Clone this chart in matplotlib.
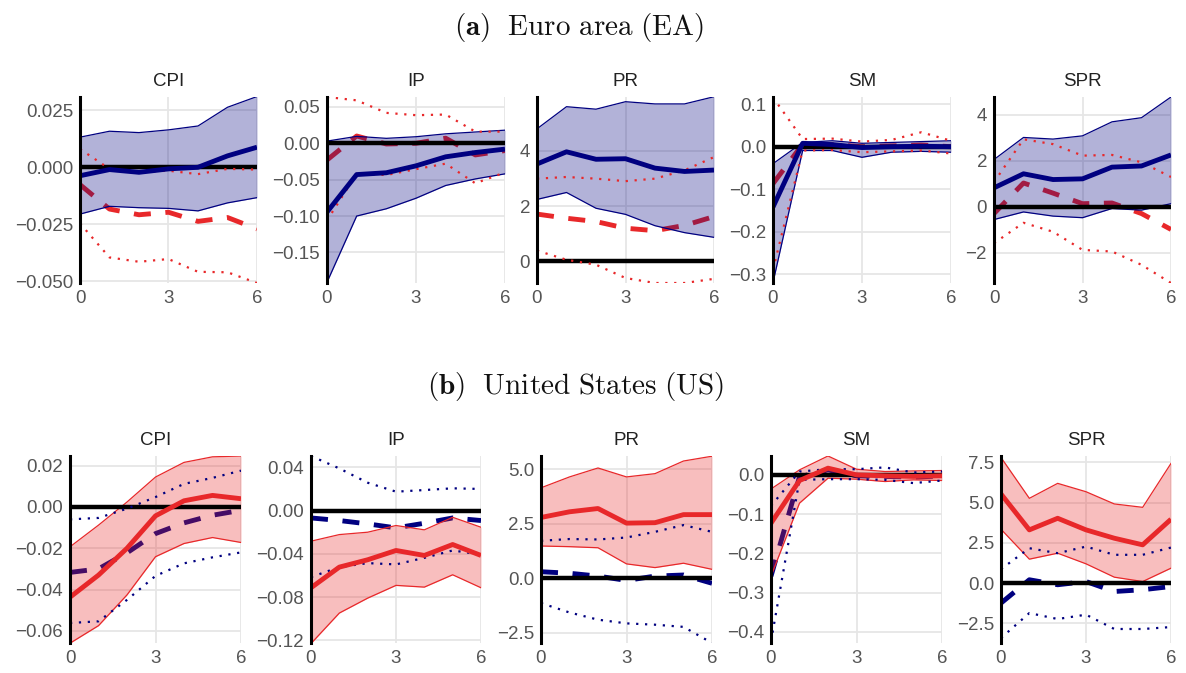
import numpy as np
import matplotlib
matplotlib.use("Agg")
import matplotlib.pyplot as plt

plt.rcParams['font.family'] = ['Liberation Sans', 'DejaVu Sans']
plt.rcParams['mathtext.fontset'] = 'cm'

horizon = [0, 1, 2, 3, 4, 5, 6]
variables = ['CPI', 'IP', 'PR', 'SM', 'SPR']

# ---------------- Euro area (EA) ----------------
ea_med = {
    'CPI': [-0.0037, -0.001, -0.0022, -0.0007, 0.0, 0.005, 0.0088],
    'IP': [-0.0945, -0.043, -0.0405, -0.031, -0.0186, -0.0127, -0.008],
    'PR': [3.52, 3.96, 3.69, 3.71, 3.37, 3.25, 3.30],
    'SM': [-0.142, 0.008, 0.005, -0.002, 0.0, 0.001, 0.0],
    'SPR': [0.83, 1.44, 1.19, 1.22, 1.73, 1.78, 2.26],
}
ea_hi = {
    'CPI': [0.0132, 0.0158, 0.0152, 0.0164, 0.0181, 0.0263, 0.031],
    'IP': [0.003, 0.0095, 0.0068, 0.009, 0.013, 0.0155, 0.018],
    'PR': [4.79, 5.59, 5.50, 5.77, 5.69, 5.69, 5.95],
    'SM': [-0.04, 0.01, 0.014, 0.008, 0.01, 0.012, 0.014],
    'SPR': [2.06, 3.02, 2.95, 3.09, 3.70, 3.88, 4.78],
}
ea_lo = {
    'CPI': [-0.0205, -0.0171, -0.0177, -0.018, -0.0191, -0.0156, -0.0133],
    'IP': [-0.191, -0.10, -0.09, -0.0755, -0.058, -0.049, -0.042],
    'PR': [2.24, 2.49, 1.92, 1.70, 1.29, 1.04, 0.87],
    'SM': [-0.32, -0.009, -0.009, -0.025, -0.013, -0.011, -0.013],
    'SPR': [-0.55, -0.22, -0.40, -0.47, -0.07, -0.14, 0.14],
}
ea_alt = {
    'CPI': [-0.0076, -0.0183, -0.0208, -0.0197, -0.0237, -0.022, -0.027],
    'IP': [-0.023, 0.01, -0.001, 0.0, 0.007, -0.016, -0.01],
    'PR': [1.71, 1.56, 1.44, 1.20, 1.11, 1.30, 1.62],
    'SM': [-0.087, 0.006, 0.005, 0.0, 0.002, 0.004, 0.0],
    'SPR': [-0.29, 1.04, 0.60, 0.14, 0.17, -0.29, -0.98],
}
ea_alt_hi = {
    'CPI': [0.008, -0.0007, -0.002, -0.0015, -0.003, -0.0007, -0.001],
    'IP': [0.0636, 0.059, 0.0418, 0.0386, 0.0395, 0.016, 0.016],
    'PR': [2.99, 3.05, 2.99, 2.90, 2.99, 3.29, 3.77],
    'SM': [0.116, 0.018, 0.019, 0.012, 0.016, 0.034, 0.014],
    'SPR': [1.08, 2.94, 2.73, 2.23, 2.26, 1.94, 1.30],
}
ea_alt_lo = {
    'CPI': [-0.0246, -0.0395, -0.0414, -0.0402, -0.0458, -0.046, -0.0507],
    'IP': [-0.106, -0.042, -0.0436, -0.0355, -0.028, -0.055, -0.04],
    'PR': [0.39, 0.06, -0.12, -0.60, -0.78, -0.78, -0.63],
    'SM': [-0.29, -0.009, -0.008, -0.013, -0.011, -0.009, -0.016],
    'SPR': [-1.58, -0.69, -1.08, -1.87, -1.94, -2.52, -3.31],
}
ea_ylim = {
    'CPI': (-0.0507, 0.0308), 'IP': (-0.192, 0.0636), 'PR': (-0.78, 5.94),
    'SM': (-0.321, 0.117), 'SPR': (-3.31, 4.78),
}
ea_yticks = {
    'CPI': [-0.05, -0.025, 0.0, 0.025], 'IP': [-0.15, -0.10, -0.05, 0.0, 0.05],
    'PR': [0, 2, 4], 'SM': [-0.3, -0.2, -0.1, 0.0, 0.1], 'SPR': [-2, 0, 2, 4],
}

# ---------------- United States (US) ----------------
us_med = {
    'CPI': [-0.0437, -0.033, -0.02, -0.0043, 0.003, 0.0056, 0.004],
    'IP': [-0.0714, -0.0523, -0.0455, -0.0369, -0.0415, -0.0314, -0.0415],
    'PR': [2.79, 3.05, 3.20, 2.53, 2.55, 2.92, 2.92],
    'SM': [-0.123, -0.0144, 0.017, 0.0, -0.0025, -0.004, -0.0025],
    'SPR': [5.54, 3.31, 4.03, 3.31, 2.79, 2.38, 3.97],
}
us_hi = {
    'CPI': [-0.0193, -0.0088, 0.0024, 0.0145, 0.0216, 0.0243, 0.0247],
    'IP': [-0.0283, -0.0222, -0.02, -0.0138, -0.0178, -0.0062, -0.0154],
    'PR': [4.15, 4.65, 5.06, 4.65, 4.80, 5.38, 5.60],
    'SM': [-0.036, 0.0127, 0.048, 0.0144, 0.0085, 0.01, 0.011],
    'SPR': [7.81, 5.27, 6.20, 5.68, 4.92, 4.71, 7.44],
}
us_lo = {
    'CPI': [-0.066, -0.0575, -0.0426, -0.0241, -0.0177, -0.0148, -0.0172],
    'IP': [-0.123, -0.0948, -0.081, -0.0692, -0.0708, -0.0594, -0.0714],
    'PR': [1.48, 1.45, 1.40, 0.66, 0.49, 0.69, 0.41],
    'SM': [-0.258, -0.072, -0.0085, -0.011, -0.017, -0.0127, -0.0144],
    'SPR': [3.35, 1.49, 1.86, 1.20, 0.37, 0.10, 0.93],
}
us_alt = {
    'CPI': [-0.0317, -0.030, -0.0222, -0.0129, -0.0077, -0.004, -0.0016],
    'IP': [-0.0068, -0.0092, -0.0123, -0.016, -0.0117, -0.0068, -0.0092],
    'PR': [0.30, 0.23, 0.10, -0.10, 0.10, 0.15, -0.23],
    'SM': [-0.258, -0.005, 0.0127, -0.0025, -0.004, -0.006, -0.0025],
    'SPR': [-1.24, 0.21, -0.10, 0.10, -0.52, -0.41, -0.21],
}
us_alt_hi = {
    'CPI': [-0.006, -0.0053, -0.0008, 0.0048, 0.0112, 0.0141, 0.0176],
    'IP': [0.0505, 0.039, 0.0258, 0.0175, 0.019, 0.0206, 0.02],
    'PR': [1.72, 1.80, 1.78, 1.87, 2.13, 2.44, 2.13],
    'SM': [-0.079, 0.0085, 0.0144, 0.0144, 0.019, 0.006, 0.0085],
    'SPR': [0.87, 2.17, 1.86, 2.27, 1.76, 1.76, 2.21],
}
us_alt_lo = {
    'CPI': [-0.0562, -0.0554, -0.045, -0.0334, -0.0273, -0.0244, -0.022],
    'IP': [-0.0615, -0.0523, -0.0486, -0.0498, -0.0437, -0.0369, -0.0406],
    'PR': [-1.14, -1.57, -1.90, -2.07, -2.13, -2.23, -2.97],
    'SM': [-0.424, -0.0127, -0.011, -0.011, -0.0127, -0.021, -0.0144],
    'SPR': [-3.41, -1.86, -2.23, -1.96, -2.85, -2.85, -2.73],
}
us_ylim = {
    'CPI': (-0.0659, 0.0247), 'IP': (-0.1225, 0.0505), 'PR': (-2.97, 5.61),
    'SM': (-0.428, 0.048), 'SPR': (-3.72, 7.9),
}
us_yticks = {
    'CPI': [-0.06, -0.04, -0.02, 0.0, 0.02], 'IP': [-0.12, -0.08, -0.04, 0.0, 0.04],
    'PR': [-2.5, 0.0, 2.5, 5.0], 'SM': [-0.4, -0.3, -0.2, -0.1, 0.0],
    'SPR': [-2.5, 0.0, 2.5, 5.0, 7.5],
}

NAVY = '#000080'
RED = '#e8282a'
W, H = 1186, 673

fig = plt.figure(figsize=(W / 100, H / 100), dpi=100)


def draw_panel(ax, name, med, hi, lo, alt, alt_hi, alt_lo, main_c, alt_c, ylim, yticks):
    ax.set_facecolor('white')
    for s in ['top', 'right', 'bottom']:
        ax.spines[s].set_visible(False)
    ax.spines['left'].set_color('black')
    ax.spines['left'].set_linewidth(2.2)
    ax.spines['left'].set_zorder(6)
    ax.grid(True, color='#e6e6e6', linewidth=1.3, zorder=0)
    ax.set_axisbelow(True)
    ax.tick_params(length=0, labelsize=13.5, labelcolor='#555555', pad=5)

    # alternative response drawn under the band, so it gets tinted by it
    ax.plot(horizon, alt, color=alt_c, lw=3.5, dashes=(3.5, 3), zorder=2)
    ax.fill_between(horizon, lo, hi, color=main_c, alpha=0.3, lw=0, zorder=3)
    ax.plot(horizon, hi, color=main_c, lw=0.9, zorder=3)
    ax.plot(horizon, lo, color=main_c, lw=0.9, zorder=3)
    ax.axhline(0, color='black', lw=3.2, zorder=4)
    ax.plot(horizon, alt_hi, color=alt_c, lw=1.6, dashes=(1, 3), zorder=4)
    ax.plot(horizon, alt_lo, color=alt_c, lw=1.6, dashes=(1, 3), zorder=4)
    ax.plot(horizon, med, color=main_c, lw=3.5, zorder=5, solid_capstyle='butt')

    ax.set_xlim(0, 6)
    ax.set_xticks([0, 3, 6])
    ax.set_ylim(*ylim)
    ax.set_yticks(yticks)
    ax.set_title(name, fontsize=13.5, color='#222222', pad=8)


top_left = [80, 327, 537, 773, 994]
top_w = [177, 178, 177, 178, 177]
bot_left = [70, 311, 541, 771, 1001]
bot_w = [171, 170, 171, 171, 170]

for i, v in enumerate(variables):
    ax = fig.add_axes([top_left[i] / W, (H - 283) / H, top_w[i] / W, 186 / H])
    draw_panel(ax, v, ea_med[v], ea_hi[v], ea_lo[v], ea_alt[v], ea_alt_hi[v], ea_alt_lo[v],
               NAVY, RED, ea_ylim[v], ea_yticks[v])
    ax = fig.add_axes([bot_left[i] / W, (H - 643) / H, bot_w[i] / W, 187 / H])
    draw_panel(ax, v, us_med[v], us_hi[v], us_lo[v], us_alt[v], us_alt_hi[v], us_alt_lo[v],
               RED, NAVY, us_ylim[v], us_yticks[v])

fig.text(579 / W, 1 - 27.5 / H, r'$\mathbf{(a)}\ \ \mathrm{Euro\ area\ (EA)}$',
         ha='center', va='center', fontsize=21, color='#111111')
fig.text(576 / W, 1 - 387 / H, r'$\mathbf{(b)}\ \ \mathrm{United\ States\ (US)}$',
         ha='center', va='center', fontsize=21, color='#111111')

fig.savefig('out.png', dpi=100, facecolor='white')
